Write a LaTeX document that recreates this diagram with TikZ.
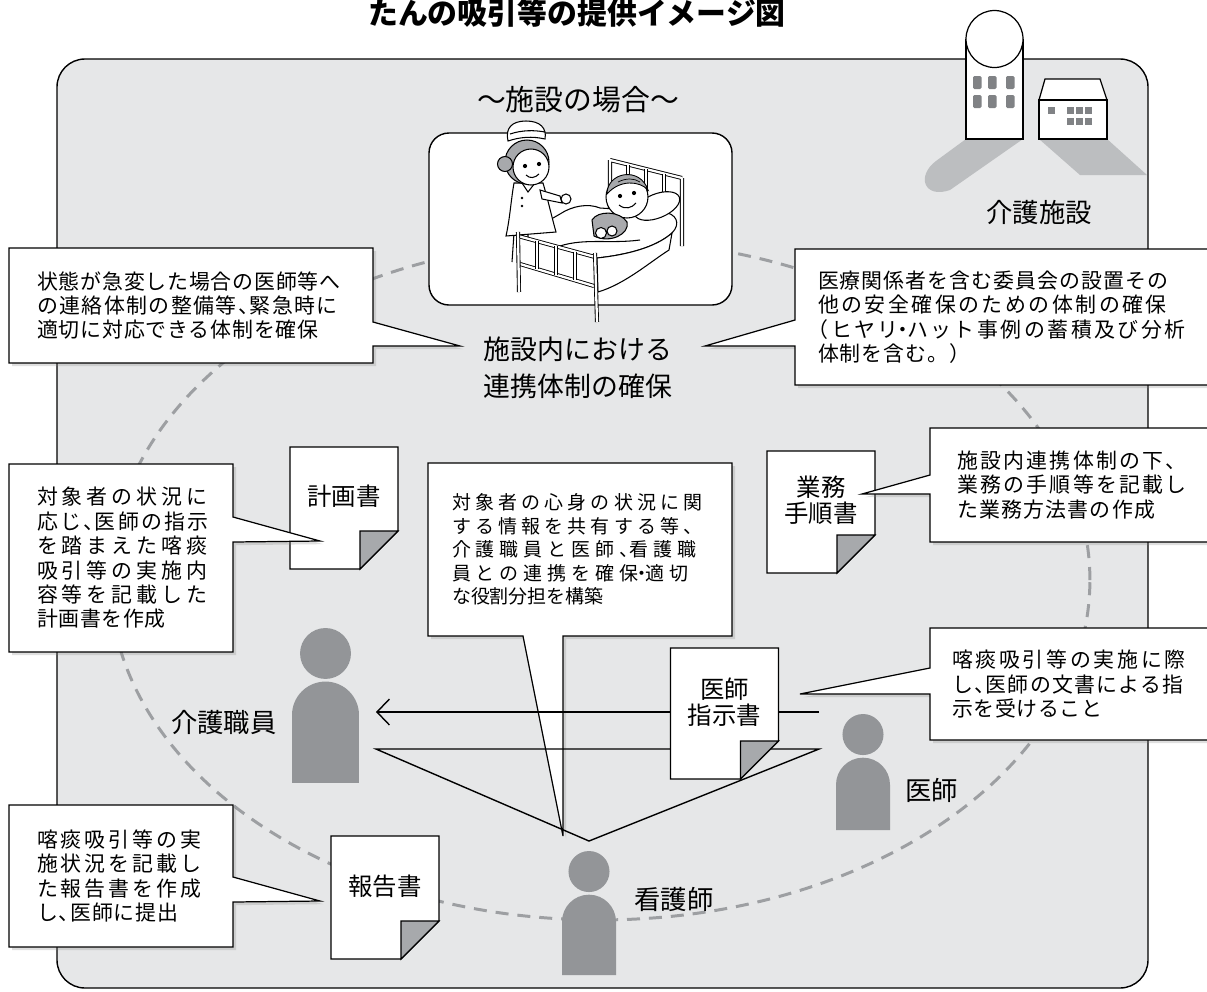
\documentclass[tikz,border=0pt]{standalone}
\usepackage{fontspec}
\setmainfont{Noto Sans CJK JP}
\usetikzlibrary{arrows.meta,shadows,calc}

\definecolor{panelgray}{HTML}{E6E7E8}
\definecolor{figgray}{HTML}{939598}
\definecolor{foldgray}{HTML}{A7A9AC}
\definecolor{ringgray}{HTML}{9D9FA2}
\definecolor{shadegray}{HTML}{BCBEC0}
\definecolor{wingray}{HTML}{808285}
\definecolor{hair}{HTML}{A7A9AC}

\pgfdeclarelayer{back}
\pgfdeclarelayer{links}
\pgfdeclarelayer{papers}
\pgfdeclarelayer{bubbles}
\pgfsetlayers{back,links,papers,bubbles,main}

\newcommand\ls[1]{\addfontfeature{LetterSpace=#1}}
\newcommand\tenc{、\kern-.45em}
\newcommand\nakag{\kern-.3em・\kern-.3em}
\newcommand\paper[1]{%
  \begin{pgfonlayer}{papers}
    \filldraw[paper] (#1.north west) -- (#1.north east) -- ([yshift=0.76cm]#1.south east)
      -- ([xshift=-0.76cm]#1.south east) -- (#1.south west) -- cycle;
    \filldraw[fold] ([yshift=0.76cm]#1.south east) -- ([xshift=-0.76cm,yshift=0.76cm]#1.south east)
      -- ([xshift=-0.76cm]#1.south east) -- cycle;
  \end{pgfonlayer}}

\tikzset{
  bubble/.style={fill=white, draw, line width=0.7pt,
    drop shadow={shadow xshift=1.8pt, shadow yshift=-1.8pt, opacity=0.25}},
  txt/.style={inner ysep=0pt, outer sep=0pt, align=left,
    font=\fontsize{11.9pt}{13.9pt}\selectfont},
  paper/.style={fill=white, draw, line width=0.7pt},
  fold/.style={fill=foldgray, draw, line width=0.7pt},
  doc/.style={minimum width=2.16cm, minimum height=2.44cm, inner sep=0pt, outer sep=0pt,
    text depth=0.5cm, align=center, font=\fontsize{13.9pt}{14.7pt}\selectfont},
  who/.style={inner sep=0pt, font=\fontsize{15pt}{18pt}\selectfont},
  link/.style={line width=0.8pt},
  ring/.style={ringgray, line width=1.7pt, dash pattern=on 7.4pt off 5.1pt},
  frame/.style={draw, line width=0.5pt, double=white, double distance=1.3pt},
  ink/.style={line width=0.6pt},
  person/.style 2 args={minimum width=#1, minimum height=#2, inner sep=0pt,
    outer xsep=0.34cm, outer ysep=0.2cm,
    path picture={\fill[figgray] let \p1=(path picture bounding box.south west),
      \p2=(path picture bounding box.north east),
      \n1={(\x2-\x1)/2}, \n2={0.38*(\x2-\x1)} in
      ({\x1+\n1},{\y2-\n2}) circle[radius={\n2*1pt}]
      (\x1,\y1) -- ({\x1},{\y2-2*\n2-1.5pt-\n1})
      arc[start angle=180, end angle=0, radius={\n1*1pt}] -- (\x2,\y1) -- cycle;}},
}

\begin{document}
\begin{tikzpicture}[x=0.02cm, y=-0.02cm]
  \useasboundingbox (0,0) rectangle (1207,991);

  \begin{pgfonlayer}{back}
    \filldraw[fill=panelgray, line width=0.8pt, rounded corners=0.56cm] (57,59) rectangle (1148,988);
    \draw[ring] (600,580) ellipse[x radius=9.8cm, y radius=6.8cm];
    \filldraw[fill=white, line width=0.8pt, rounded corners=0.4cm] (429,133) rectangle (732,305);
  \end{pgfonlayer}

  \node[font=\bfseries\fontsize{17pt}{20pt}\selectfont] (title) at (577,13) {たんの吸引等の提供イメージ図};
  \node[font=\fontsize{16.4pt}{18pt}\selectfont] (scene) at (578,100) {〜施設の場合〜};
  \node[align=center, font=\fontsize{15.3pt}{21pt}\selectfont] (liaison) at (578,368)
    {施設内における\\連携体制の確保};

  % facility buildings
  \fill[shadegray] (966,139) -- (936,161) .. controls (916,176) and (924,199) .. (950,190) -- (1023,139) -- cycle;
  \fill[shadegray] (1039,139) -- (1107,139) -- (1147,175) -- (1080,175) -- cycle;
  \filldraw[fill=white, line width=0.7pt] (966,39) -- (966,139) -- (1023,139) -- (1023,39);
  \filldraw[fill=white, line width=0.7pt] (994.5,39) circle[radius=0.57cm];
  \foreach \wx in {973,988,1006}
    \foreach \wy in {76,95}
      \fill[wingray, rounded corners=0.8pt] (\wx,\wy) rectangle ++(8.5,13);
  \filldraw[fill=white, line width=0.7pt] (1045,79) -- (1100,79) -- (1107,100) -- (1039,100) -- cycle;
  \filldraw[fill=white, line width=0.7pt] (1039,100) rectangle (1107,139);
  \foreach \wx in {1048,1067,1076,1085}
    \fill[wingray] (\wx,107) rectangle ++(7,7);
  \foreach \wx in {1067,1076,1085}
    \fill[wingray] (\wx,118) rectangle ++(7,7);
  \node[who] (facility) at (1039,212) {介護施設};

  % bed, patient and nurse
  \draw[frame] (610,160) -- (682,178) (610,160) -- (610,215) (682,178) -- (682,246);
  \foreach \bx/\by in {628/165, 646/169, 664/174}
    \draw[frame] (\bx,\by) -- (\bx,\by+40);
  \filldraw[fill=white, ink] (518,238) -- (560,214) .. controls (572,206) and (588,203) .. (600,208)
    -- (662,212) .. controls (677,213) and (681,224) .. (672,233)
    .. controls (655,248) and (625,255) .. (597,258) -- cycle;
  \filldraw[fill=white, ink] (597,258) .. controls (625,255) and (655,248) .. (672,233)
    -- (669,250) .. controls (650,262) and (625,284) .. (598,292) -- cycle;
  \draw[ink] (560,246) .. controls (585,238) and (610,244) .. (640,240);
  \filldraw[fill=white, ink, rotate around={22:(657,206)}] (657,206) ellipse[x radius=0.48cm, y radius=0.24cm];
  \filldraw[fill=white, ink] (627,197) circle[radius=0.42cm];
  \filldraw[fill=hair, line width=0.5pt] (607,194) .. controls (607,172) and (640,166) .. (648,190)
    .. controls (640,181) and (620,179) .. (607,194) -- cycle;
  \draw[line width=0.4pt] (618,182) .. controls (626,178) and (634,178) .. (640,182);
  \fill (620,196) circle[radius=1.2pt] (634,193) circle[radius=1.2pt];
  \draw[ink] (619,205) .. controls (625,210) and (632,208) .. (636,203);
  \filldraw[fill=figgray!80, ink] (592,220) .. controls (598,210) and (620,211) .. (627,222)
    .. controls (630,234) and (610,244) .. (594,236) -- cycle;
  \filldraw[fill=white, ink] (601,233) circle[radius=0.11cm] (612,231) circle[radius=0.1cm];
  \draw[ink] (514,233) -- (512,262) (528,233) -- (528,262);
  \filldraw[fill=white, ink] (514,183) -- (543,183) .. controls (548,200) and (552,218) .. (556,232)
    -- (506,236) .. controls (510,218) and (511,200) .. (514,183) -- cycle;
  \draw[ink] (522,183) -- (528,192) -- (535,183);
  \filldraw[fill=white, ink] (540,190) -- (560,196) -- (562,203) -- (542,199) -- cycle;
  \filldraw[fill=white, ink] (566,199) circle[radius=0.1cm];
  \fill (522,198) circle[radius=0.8pt] (522,206) circle[radius=0.8pt];
  \filldraw[fill=hair, ink] (527,162) circle[radius=0.44cm];
  \filldraw[fill=hair, ink] (505,164) circle[radius=0.15cm];
  \filldraw[fill=white, ink] (531,167) circle[radius=0.36cm];
  \fill (525,166) circle[radius=1.2pt] (539,164) circle[radius=1.2pt];
  \draw[ink] (526,175) .. controls (530,179) and (535,178) .. (539,174);
  \filldraw[fill=white, ink] (508,141) .. controls (505,128) and (512,121) .. (526,121)
    .. controls (540,121) and (547,128) .. (545,139) .. controls (532,136) and (520,137) .. (508,141) -- cycle;
  \draw[ink] (510,134) .. controls (522,130) and (534,130) .. (545,132);
  \fill[white] (518,236) -- (595,257) -- (594,286) -- (520,264) -- cycle;
  \draw[frame] (518,236) -- (595,257) (520,264) -- (594,286);
  \draw[frame] (518,232) -- (519,292) (595,253) -- (597,322);
  \foreach \fx in {537,556,575}
    \draw[frame] (\fx,{236+(\fx-518)*21/77}) -- (\fx,{264+(\fx-520)*22/74});

  % people
  \node[person={1.34cm}{3.1cm}] (carer) at (325.5,705.5) {};
  \node[person={1.08cm}{2.32cm}] (doctor) at (863,772) {};
  \node[person={1.08cm}{2.48cm}] (nurse) at (589,913) {};
  \node[who, anchor=east] (carerlbl) at (277,722) {介護職員};
  \node[who, anchor=west] (doctorlbl) at (905,790) {医師};
  \node[who, anchor=west] (nurselbl) at (634,899) {看護師};

  \begin{pgfonlayer}{links}
    \draw[link, -{Straight Barb[length=0.25cm, width=0.52cm]}] (doctor.west |- 0,712) -- (carer.east |- 0,712);
    \draw[link] (carer.east |- 0,749) -- (doctor.west |- 0,749) -- (nurse.north) -- cycle;
  \end{pgfonlayer}

  % documents
  \node[doc] (plan) at (344,508) {計画書};
  \node[doc, minimum height=2.62cm] (order) at (724.5,713.5) {医師\\指示書};
  \node[doc] (manual) at (821,512) {業務\\手順書};
  \node[doc, minimum height=2.46cm] (report) at (385,897.5) {報告書};
  \paper{plan}
  \paper{order}
  \paper{manual}
  \paper{report}

  % callouts
  \node[txt, text width=6.16cm, inner xsep=0.56cm, minimum height=2.3cm] (emerg) at (191,305.5)
    {{\ls{4}状態が急変した場合の医師等へ}\\{\ls{7}の連絡体制の整備等\tenc 緊急時に}\\{\ls{4}適切に対応できる体制を確保}};
  \node[txt, text width=7.42cm, inner xsep=0.46cm, minimum height=2.72cm] (safety) at (1003.5,317)
    {{\ls{5}医療関係者を含む委員会の設置その}\\{\ls{12}他の安全確保のための体制の確保}\\{\ls{12}\hspace*{-.5em}（ヒヤリ\nakag ハット事例の蓄積及び分析}\\{\ls{5}体制を含む。）}};
  \node[txt, text width=3.36cm, inner xsep=0.56cm, minimum height=3.76cm] (plannote) at (121,558)
    {{\ls{19}対象者の状況に}\\{\ls{11}応じ\tenc 医師の指示}\\{\ls{19}を踏まえた喀痰}\\{\ls{19}吸引等の実施内}\\{\ls{19}容等を記載した}\\{\ls{3}計画書を作成}};
  \node[txt, text width=5.12cm, inner xsep=0.48cm, minimum height=3.46cm,
    font=\fontsize{10.8pt}{13.3pt}\selectfont] (share) at (580,549.5)
    {{\ls{22}対象者の心身の状況に関}\\{\ls{22}する情報を共有する等、}\\{\ls{26}介護職員と医師\tenc 看護職}\\{\ls{26}員との連携を確保\nakag 適切}\\な役割分担を構築};
  \node[txt, text width=4.56cm, inner xsep=0.54cm, minimum height=2.28cm] (manualnote) at (1071,485)
    {{\ls{11}施設内連携体制の下、}\\{\ls{11}業務の手順等を記載し}\\{\ls{6}た業務方法書の作成}};
  \node[txt, text width=4.76cm, inner xsep=0.44cm, minimum height=2.24cm] (ordernote) at (1071,684)
    {{\ls{13}喀痰吸引等の実施に際}\\{\ls{6}し\tenc 医師の文書による指}\\{\ls{3}示を受けること}};
  \node[txt, text width=3.36cm, inner xsep=0.56cm, minimum height=2.84cm] (reportnote) at (121,876)
    {{\ls{14}喀痰吸引等の実}\\{\ls{14}施状況を記載し}\\{\ls{14}た報告書を作成}\\{\ls{4}し\tenc 医師に提出}};

  \coordinate (tipEmerg) at (460,346);
  \coordinate (tipSafety) at (705,346);
  \coordinate (tipPlan) at (320,541);
  \coordinate (tipShare) at (563,836);
  \coordinate (tipManual) at (862,494);
  \coordinate (tipOrder) at (800,694);
  \coordinate (tipReport) at (320,901);

  \begin{pgfonlayer}{back}
    \draw[bubble] (share.north west) -- (share.north east) -- (share.south east) -- (share.south -| 563,0)
      -- (tipShare) -- (share.south -| 523,0) -- (share.south west) -- cycle;
  \end{pgfonlayer}
  \begin{pgfonlayer}{bubbles}
    \draw[bubble] (emerg.north west) -- (emerg.north east) -- (emerg.east |- 0,322) -- (tipEmerg)
      -- (emerg.east |- 0,346) -- (emerg.south east) -- (emerg.south west) -- cycle;
    \draw[bubble] (safety.north west) -- (safety.north east) -- (safety.south east) -- (safety.south west)
      -- (safety.west |- 0,346) -- (tipSafety) -- (safety.west |- 0,320) -- cycle;
    \draw[bubble] (plannote.north west) -- (plannote.north east) -- (plannote.east |- 0,517) -- (tipPlan)
      -- (plannote.east |- 0,542) -- (plannote.south east) -- (plannote.south west) -- cycle;
    \draw[bubble] (manualnote.north west) -- (manualnote.north east) -- (manualnote.south east)
      -- (manualnote.south west) -- (manualnote.west |- 0,494) -- (tipManual) -- (manualnote.west |- 0,475) -- cycle;
    \draw[bubble] (ordernote.north west) -- (ordernote.north east) -- (ordernote.south east)
      -- (ordernote.south west) -- (ordernote.west |- 0,694) -- (tipOrder) -- (ordernote.west |- 0,668) -- cycle;
    \draw[bubble] (reportnote.north west) -- (reportnote.north east) -- (reportnote.east |- 0,877) -- (tipReport)
      -- (reportnote.east |- 0,902) -- (reportnote.south east) -- (reportnote.south west) -- cycle;
  \end{pgfonlayer}
\end{tikzpicture}
\end{document}
